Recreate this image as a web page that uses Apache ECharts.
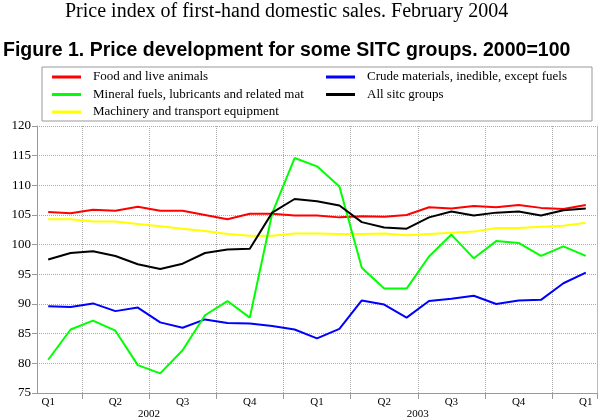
<!DOCTYPE html>
<html>
<head>
<meta charset="utf-8">
<script src="https://cdn.jsdelivr.net/npm/echarts@6/dist/echarts.min.js"></script>
<style>html,body{margin:0;padding:0;background:#fff}#c{width:600px;height:420px}</style>
</head>
<body>
<div id="c"></div>
<script>
const months = ['2002M01','2002M02','2002M03','2002M04','2002M05','2002M06','2002M07','2002M08','2002M09','2002M10','2002M11','2002M12',
  '2003M01','2003M02','2003M03','2003M04','2003M05','2003M06','2003M07','2003M08','2003M09','2003M10','2003M11','2003M12','2004M01'];
const quarterLabels = ['Q1','','','Q2','','','Q3','','','Q4','','','Q1','','','Q2','','','Q3','','','Q4','','','Q1'];
const yearLabels = {5:'2002', 17:'2003'};
const food = [105.5,105.3,105.9,105.7,106.4,105.7,105.7,105.0,104.3,105.2,105.2,104.9,104.9,104.6,104.8,104.7,105.0,106.3,106.1,106.5,106.3,106.7,106.2,106.0,106.7];
const mineral = [80.6,85.7,87.2,85.5,79.7,78.3,82.2,88.1,90.5,87.7,105.3,114.6,113.2,109.8,96.1,92.6,92.6,98.0,101.7,97.7,100.6,100.3,98.1,99.7,98.1];
const machinery = [104.3,104.3,103.9,103.9,103.5,103.1,102.7,102.3,101.8,101.5,101.5,101.9,101.9,101.8,101.8,101.9,101.6,101.8,102.0,102.2,102.8,102.8,103.0,103.2,103.7];
const crude = [89.6,89.5,90.1,88.8,89.4,86.9,86.0,87.4,86.8,86.7,86.3,85.7,84.2,85.8,90.6,89.9,87.7,90.5,90.9,91.4,90.0,90.6,90.7,93.5,95.3];
const allGroups = [97.5,98.6,98.9,98.1,96.7,95.9,96.8,98.6,99.2,99.3,105.4,107.7,107.3,106.6,103.8,102.9,102.7,104.6,105.6,104.9,105.4,105.6,104.9,105.8,106.1];

const names = ['Food and live animals','Mineral fuels, lubricants and related mat','Machinery and transport equipment','Crude materials, inedible, except fuels','All sitc groups'];
const serif = 'Liberation Serif';
const gridLineColor = '#aaa';
const axisColor = '#999';

const chart = echarts.init(document.getElementById('c'), null, {renderer:'canvas'});
const legendCommon = {
  orient:'vertical', icon:'rect', itemWidth:29, itemHeight:3, itemGap:3.5, padding:0,
  textStyle:{fontFamily:serif, fontSize:13, color:'#000', lineHeight:14, padding:[0,0,0,7]},
  selectedMode:false
};
const mk = (name, data, color) => ({
  name, type:'line', data, symbol:'none', color,
  lineStyle:{width:2, color}, emphasis:{disabled:true}
});
chart.setOption({
  animation:false,
  title:[
    {text:'Price index of first-hand domestic sales. February 2004', left:65, top:2, padding:0,
     textStyle:{fontFamily:serif, fontSize:20, fontWeight:'normal', color:'#000'}},
    {text:'Figure 1. Price development for some SITC groups. 2000=100', left:3, top:41, padding:0,
     textStyle:{fontFamily:'Liberation Sans', fontSize:19.5, fontWeight:'bold', color:'#000'}}
  ],
  graphic:[{type:'rect', shape:{x:42, y:67, width:550, height:54}, style:{fill:'none', stroke:'#999', lineWidth:1}, silent:true}],
  legend:[
    Object.assign({left:52, top:70, data:[names[0], names[1], names[2]]}, legendCommon),
    Object.assign({left:326, top:70, data:[names[3], names[4]]}, legendCommon)
  ],
  grid:{left:37, right:3, top:126, bottom:26, containLabel:false},
  xAxis:[
    {type:'category', data:months, boundaryGap:true,
     axisLine:{lineStyle:{color:axisColor}},
     axisTick:{show:true, interval:(i)=>i%3===2, length:6, lineStyle:{color:axisColor}},
     splitLine:{show:true, interval:(i)=>i%3===2, lineStyle:{type:'dotted', color:gridLineColor}},
     axisLabel:{interval:(i)=>i%3===0, formatter:(v,i)=>quarterLabels[i], margin:4,
       fontFamily:serif, fontSize:11, color:'#000'}},
    {type:'value', min:0, max:25, interval:1, position:'bottom',
     axisLine:{show:false}, axisTick:{show:false}, splitLine:{show:false},
     axisLabel:{margin:16, fontFamily:serif, fontSize:11, color:'#000',
       formatter:(v)=>yearLabels[v] || ''}}
  ],
  yAxis:[
    {type:'value', min:75, max:120, interval:5,
     axisLine:{show:true, lineStyle:{color:axisColor}},
     axisTick:{show:true, length:5, lineStyle:{color:axisColor}},
     splitLine:{lineStyle:{type:'dotted', color:gridLineColor}},
     axisLabel:{fontFamily:serif, fontSize:13, color:'#000', margin:6}},
    {type:'value', min:75, max:120, interval:5, position:'right',
     axisLine:{show:true, lineStyle:{color:'#bbb'}}, axisTick:{show:false},
     axisLabel:{show:false}, splitLine:{show:false}}
  ],
  series:[
    mk(names[2], machinery, '#ffff00'),
    mk(names[0], food, '#ff0000'),
    mk(names[3], crude, '#0000ff'),
    mk(names[1], mineral, '#00ff00'),
    mk(names[4], allGroups, '#000000')
  ]
});
</script>
</body>
</html>
